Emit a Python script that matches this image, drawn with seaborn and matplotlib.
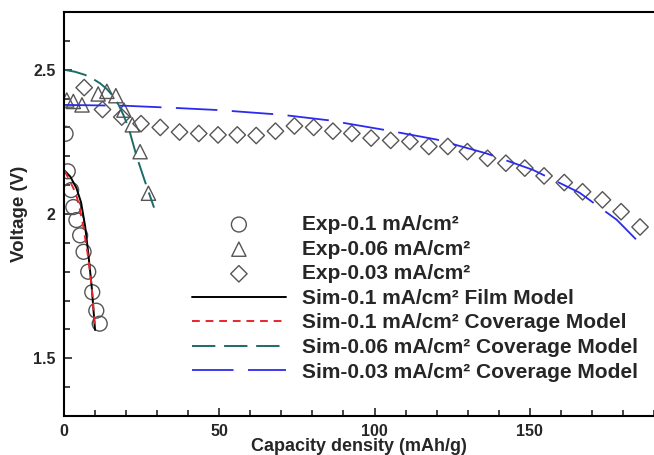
import matplotlib
matplotlib.use("Agg")
import matplotlib.pyplot as plt
import numpy as np
import pandas as pd
import seaborn as sns
from matplotlib.ticker import MultipleLocator

exp01_x = [0.5, 1.2, 2.3, 3.0, 4.0, 5.2, 6.3, 7.8, 9.1, 10.4, 11.5]
exp01_y = [2.278, 2.148, 2.083, 2.024, 1.979, 1.926, 1.869, 1.800, 1.729, 1.665, 1.620]

exp006_x = [0.9, 3.0, 5.8, 11.0, 13.8, 16.7, 19.3, 22.0, 24.5, 27.2]
exp006_y = [2.395, 2.390, 2.378, 2.416, 2.425, 2.410, 2.360, 2.309, 2.216, 2.072]

exp003_x = [6.5, 12.4, 18.6, 24.8, 31.0, 37.2, 43.4, 49.6, 55.8, 61.9, 68.1, 74.2,
            80.4, 86.6, 92.7, 98.9, 105.2, 111.4, 117.5, 123.6, 129.9, 136.4,
            142.3, 148.4, 154.6, 161.1, 167.0, 173.4, 179.4, 185.5]
exp003_y = [2.438, 2.362, 2.336, 2.313, 2.300, 2.284, 2.279, 2.274, 2.274, 2.272,
            2.287, 2.305, 2.300, 2.287, 2.279, 2.263, 2.255, 2.251, 2.234, 2.234,
            2.216, 2.193, 2.176, 2.159, 2.132, 2.109, 2.077, 2.049, 2.008, 1.955]

# simulated curves
film01_x = [0.2, 2.0, 4.0, 5.5, 6.8, 7.8, 8.9, 10.0]
film01_y = [2.150, 2.130, 2.090, 2.040, 1.958, 1.866, 1.750, 1.598]

cov01_x = [0.2, 1.5, 3.0, 4.1, 5.2, 6.2, 7.8, 8.9, 10.0]
cov01_y = [2.150, 2.122, 2.090, 2.060, 2.012, 1.958, 1.850, 1.750, 1.598]

cov006_x = [0.0, 3.5, 6.8, 9.5, 11.6, 13.8, 15.9, 17.6, 19.1, 20.3, 21.3, 23.4, 26.1, 29.0]
cov006_y = [2.500, 2.493, 2.482, 2.467, 2.453, 2.433, 2.407, 2.378, 2.344, 2.312, 2.280, 2.199, 2.112, 2.022]

cov003_x = [0.0, 20.0, 35.0, 50.0, 70.0, 85.0, 104.0, 120.0, 136.0, 151.0, 166.0, 178.0, 185.5]
cov003_y = [2.378, 2.375, 2.368, 2.360, 2.344, 2.325, 2.290, 2.258, 2.210, 2.153, 2.074, 1.980, 1.898]

labels = ["Exp-0.1 mA/cm²", "Exp-0.06 mA/cm²", "Exp-0.03 mA/cm²",
          "Sim-0.1 mA/cm² Film Model", "Sim-0.1 mA/cm² Coverage Model",
          "Sim-0.06 mA/cm² Coverage Model", "Sim-0.03 mA/cm² Coverage Model"]

sns.set_style("ticks")
plt.rcParams['font.family'] = ['Liberation Sans', 'DejaVu Sans']

fig = plt.figure(figsize=(6.54, 4.55), dpi=100)
ax = fig.add_axes([64/654, 39/455, 1 - 64/654, (416 - 12)/455])

mk = dict(facecolors='none', edgecolor='#555555', linewidth=1.0)
sns.scatterplot(x=exp01_x, y=exp01_y, marker='o', s=115, ax=ax, label=labels[0], **mk)
sns.scatterplot(x=exp006_x, y=exp006_y, marker='^', s=105, ax=ax, label=labels[1], **mk)
sns.scatterplot(x=exp003_x, y=exp003_y, marker='D', s=70, ax=ax, label=labels[2], **mk)

sns.lineplot(x=film01_x, y=film01_y, color='black', lw=1.4, sort=False,
             estimator=None, ax=ax, label=labels[3])
l1 = sns.lineplot(x=cov01_x, y=cov01_y, color='#e8262a', lw=1.4, sort=False,
                  estimator=None, ax=ax, label=labels[4]).lines[-1]
l1.set_dashes([4, 3])
l2 = sns.lineplot(x=cov006_x, y=cov006_y, color='#1d6b68', lw=1.4, sort=False,
                  estimator=None, ax=ax, label=labels[5]).lines[-1]
l2.set_dashes([12, 4.5])
l3 = sns.lineplot(x=cov003_x, y=cov003_y, color='#2b2bef', lw=1.3, sort=False,
                  estimator=None, ax=ax, label=labels[6]).lines[-1]
l3.set_dashes([23, 8])

ax.set_xlim(0, 190)
ax.set_ylim(1.3, 2.7)
ax.xaxis.set_major_locator(MultipleLocator(50))
ax.xaxis.set_minor_locator(MultipleLocator(10))
ax.yaxis.set_major_locator(MultipleLocator(0.5))
ax.yaxis.set_minor_locator(MultipleLocator(0.1))
ax.set_yticks([1.5, 2.0, 2.5])
ax.set_yticklabels(["1.5", "2", "2.5"])
ax.tick_params(which='both', direction='in', top=False, right=False, width=1.2,
               labelsize=11.5, pad=6)
ax.tick_params(which='major', length=6)
ax.tick_params(which='minor', length=4)
for t in ax.get_xticklabels() + ax.get_yticklabels():
    t.set_fontweight('bold')
for s in ['left', 'bottom', 'top']:
    ax.spines[s].set_linewidth(1.5)
    ax.spines[s].set_color('black')
ax.spines['right'].set_visible(False)

ax.set_xlabel("Capacity density (mAh/g)", fontsize=13, fontweight='bold', labelpad=-1)
ax.set_ylabel("Voltage (V)", fontsize=13.5, fontweight='bold', labelpad=4)

leg = ax.legend(loc='upper left', bbox_to_anchor=(192/654, 1 - 215/455),
                bbox_transform=fig.transFigure, frameon=False, fontsize=15,
                handlelength=4.5, handletextpad=0.78, labelspacing=0.27,
                borderpad=0, borderaxespad=0)
for t in leg.get_texts():
    t.set_fontweight('bold')

fig.savefig("out.png", dpi=100)
